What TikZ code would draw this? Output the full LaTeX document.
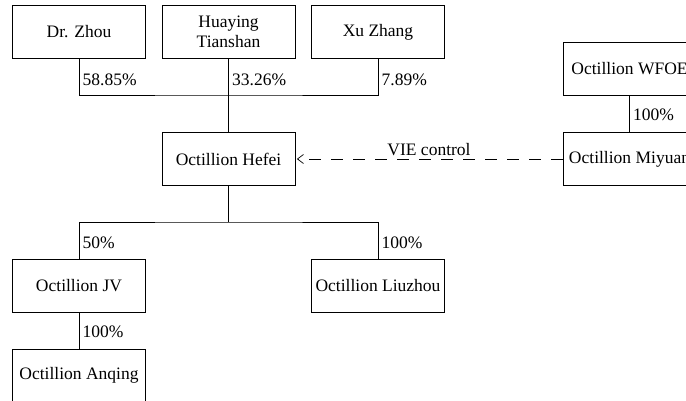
\documentclass[tikz,border=0pt]{standalone}
\usepackage{fontspec}
\setmainfont{Liberation Serif}
\usetikzlibrary{arrows,arrows.meta}
\tikzset{x=1pt,y=-1pt,node distance=149.5pt,box/.style={draw,minimum width=133pt,minimum height=53pt,align=center,inner sep=2pt}}

\begin{document}
\begin{tikzpicture}[font=\fontsize{17.5}{20}\selectfont,line width=0.8pt]
    \path[use as bounding box] (0,0) rectangle (686,401);
    \clip (0,0) rectangle (686,401);
    \node[box] (1) at (79,32) {Dr. Zhou};
    \node[box] (2) [right of=1] {Huaying\\Tianshan};
    \node[box] (3) [right of=2] {Xu Zhang};
    \node[box] (4) [below of=2,node distance=127pt] {Octillion Hefei};
    \node[box] (6) [below of=1,node distance=253.5pt] {Octillion JV};
    \node[box] (7) [right of=6,node distance=299pt] {Octillion Liuzhou};
    \node[box] (8) [below of=6,node distance=90pt] {Octillion Anqing};
    \node[box] (9) at (629.5,69) {Octillion WFOE};
    \node[box] (10) [below of=9,node distance=90pt] {Octillion Miyuan};
    \coordinate (a) at (228.5,95);
    \coordinate (b) at (228.5,222);
    \draw (1.south) |- node[pos=.29,right] {58.85\%} (a) -| node[pos=.71,right] {7.89\%} (3.south);
    \draw (2) -- node[pos=.28,right] {33.26\%} (4);
    \draw (4) -- (b);
    \draw (6.north) |- node[pos=.22,right] {50\%} (b) -| node[pos=.78,right] {100\%} (7.north);
    \draw (6) -- node[pos=.54,right] {100\%} (8);
    \draw (9) -- node[pos=.53,right] {100\%} (10);
    \draw[-{Straight Barb[length=6pt,width=9pt,line width=0.7pt]},dash pattern=on 12pt off 10pt,shorten >=1.5pt] (10) -- node[above=2pt,inner sep=1pt] {VIE control} (4);
\end{tikzpicture}
\end{document}
